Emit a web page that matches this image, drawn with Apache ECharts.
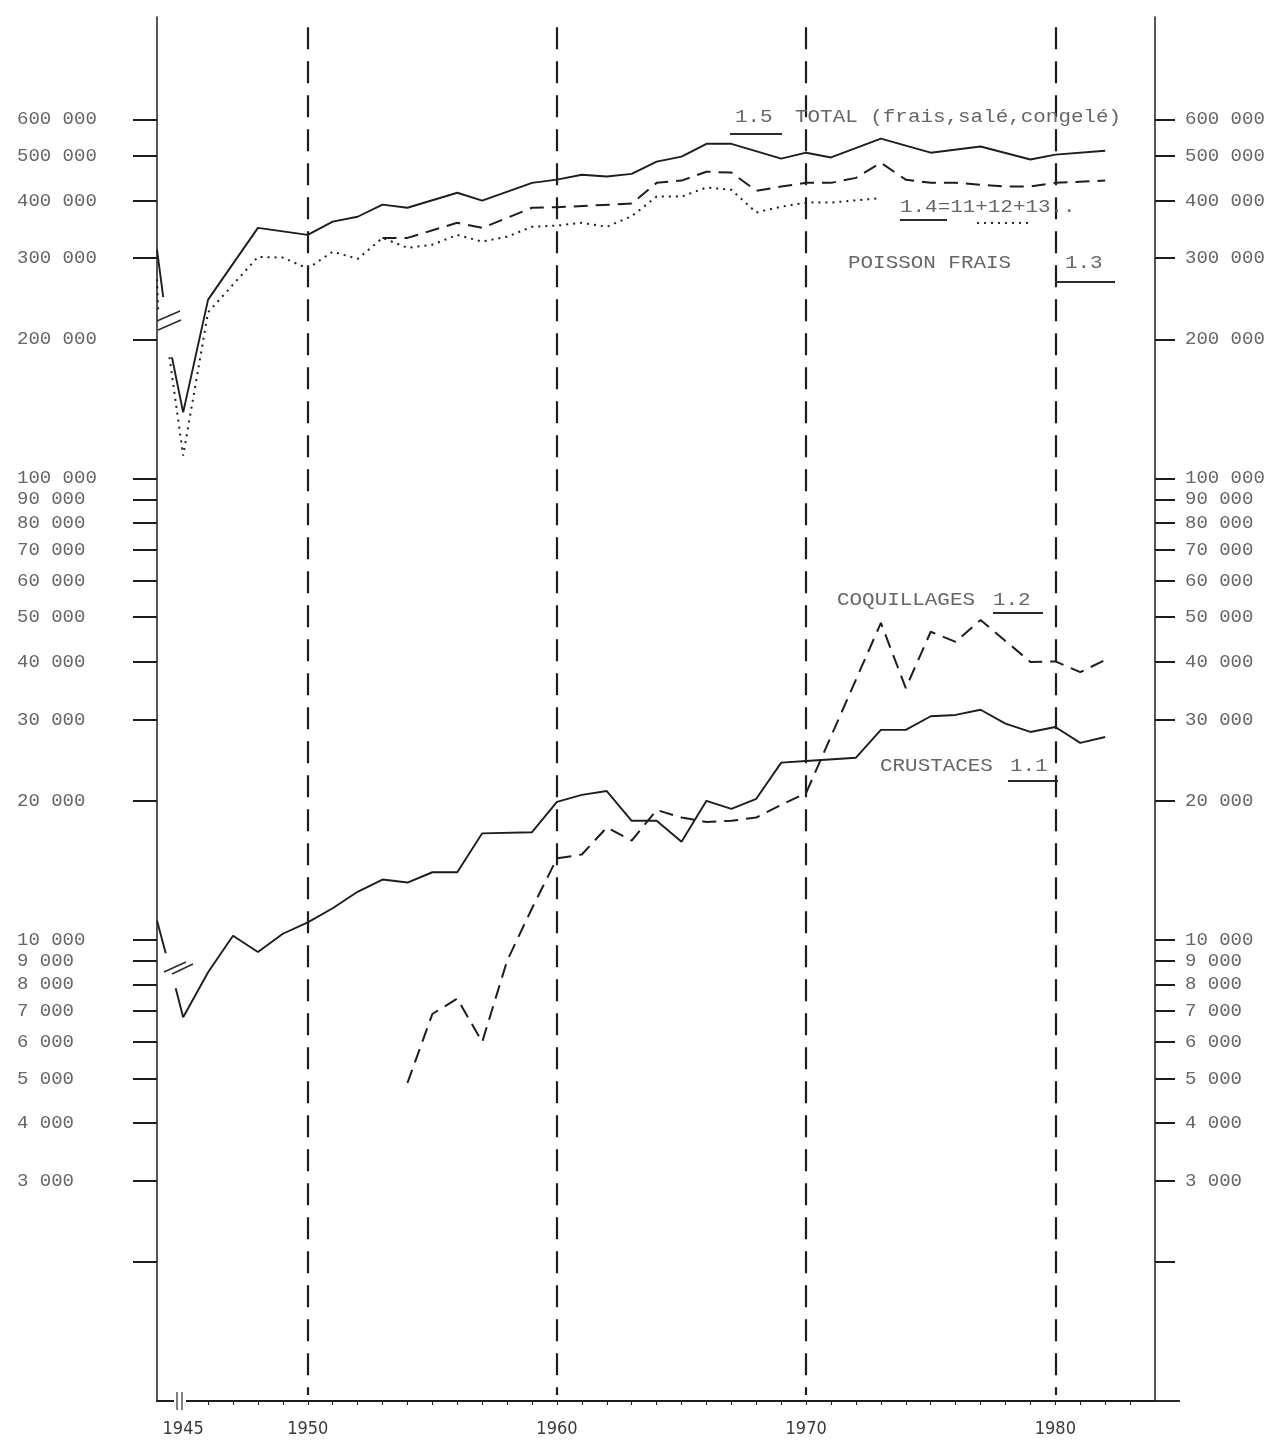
<!DOCTYPE html>
<html>
<head>
<meta charset="utf-8">
<title>Production des pêches 1945-1982</title>
<script src="https://cdn.jsdelivr.net/npm/echarts@6/dist/echarts.min.js"></script>
<style>
  html, body { margin: 0; padding: 0; background: #fff; }
  #chart { width: 1280px; height: 1450px; }
</style>
</head>
<body>
<div id="chart"></div>
<script>
// ---- data (tonnes, log scale) ----
// 1.5 Total (frais, salé, congelé) — pre-war reference drawn at the axis, then the post-war series
const totalPreWarYears = [1943.95, 1944.2];
const totalPreWarValues = [313000, 247000];
const totalYears = [1944.55, 1945, 1946, 1948, 1950, 1951, 1952, 1953, 1954, 1956, 1957, 1959, 1960, 1961, 1962, 1963, 1964, 1965, 1966, 1967, 1969, 1970, 1971, 1973, 1975, 1977, 1979, 1980, 1982];
const totalValues = [183000, 139000, 244000, 349000, 337000, 360000, 369000, 392000, 386000, 416000, 400000, 437000, 444000, 455000, 451000, 457000, 486000, 498000, 531000, 531000, 493000, 508000, 496000, 545000, 508000, 524000, 491000, 503000, 513000];

// 1.4 = 1.1 + 1.2 + 1.3 (dashed)
const freshSumYears = [1953, 1954, 1956, 1957, 1958, 1959, 1960, 1963, 1964, 1965, 1966, 1967, 1968, 1969, 1970, 1971, 1972, 1973, 1974, 1975, 1976, 1978, 1979, 1980, 1982];
const freshSumValues = [332000, 332000, 358000, 349000, 367000, 386000, 387000, 394000, 437000, 442000, 462000, 460000, 420000, 429000, 437000, 437000, 448000, 483000, 444000, 437000, 437000, 429000, 429000, 437000, 442000];

// Poisson frais (dotted)
const fishPreWarYears = [1943.95, 1944.0];
const fishPreWarValues = [270000, 229000];
const fishYears = [1944.45, 1945, 1946, 1948, 1949, 1950, 1951, 1952, 1953, 1954, 1955, 1956, 1957, 1958, 1959, 1960, 1961, 1962, 1963, 1964, 1965, 1966, 1967, 1968, 1969, 1970, 1971, 1973];
const fishValues = [183000, 112000, 229000, 302000, 301000, 285000, 310000, 299000, 332000, 316000, 321000, 337000, 326000, 334000, 351000, 353000, 358000, 351000, 370000, 408000, 408000, 427000, 422000, 377000, 388000, 396000, 396000, 405000];

// 1.1 Crustacés (solid)
const crustPreWarYears = [1943.95, 1944.3];
const crustPreWarValues = [11000, 9350];
const crustYears = [1944.7, 1945, 1946, 1947, 1948, 1949, 1950, 1951, 1952, 1953, 1954, 1955, 1956, 1957, 1959, 1960, 1961, 1962, 1963, 1964, 1965, 1966, 1967, 1968, 1969, 1970, 1972, 1973, 1974, 1975, 1976, 1977, 1978, 1979, 1980, 1981, 1982];
const crustValues = [7850, 6790, 8500, 10200, 9400, 10300, 10900, 11700, 12700, 13500, 13300, 14000, 14000, 17000, 17100, 19900, 20600, 21000, 18100, 18100, 16300, 20000, 19200, 20200, 24200, 24400, 24800, 28500, 28500, 30500, 30700, 31500, 29400, 28200, 28900, 26700, 27500];

// 1.2 Coquillages (dashed)
const shellYears = [1954, 1955, 1956, 1957, 1958, 1959, 1960, 1961, 1962, 1963, 1964, 1965, 1966, 1967, 1968, 1969, 1970, 1973, 1974, 1975, 1976, 1977, 1979, 1980, 1981, 1982];
const shellValues = [4890, 6900, 7450, 6000, 9000, 11700, 15000, 15300, 17500, 16400, 19100, 18400, 18000, 18100, 18400, 19600, 20800, 48600, 35100, 46500, 44200, 49300, 40000, 40100, 38000, 40400];

// axes
const yTickValues = [2000, 3000, 4000, 5000, 6000, 7000, 8000, 9000, 10000, 20000, 30000, 40000, 50000, 60000, 70000, 80000, 90000, 100000, 200000, 300000, 400000, 500000, 600000];
const yLabelValues = [3000, 4000, 5000, 6000, 7000, 8000, 9000, 10000, 20000, 30000, 40000, 50000, 60000, 70000, 80000, 90000, 100000, 200000, 300000, 400000, 500000, 600000];
const xTickYears = [1945, 1946, 1947, 1948, 1949, 1950, 1951, 1952, 1953, 1954, 1955, 1956, 1957, 1958, 1959, 1960, 1961, 1962, 1963, 1964, 1965, 1966, 1967, 1968, 1969, 1970, 1971, 1972, 1973, 1974, 1975, 1976, 1977, 1978, 1979, 1980, 1981, 1982, 1983];
const xLabelYears = [1945, 1950, 1960, 1970, 1980];
const decadeLines = [1950, 1960, 1970, 1980];

// ---- helpers ----
const pairs = (xs, ys) => xs.map((x, i) => [x, ys[i]]);
const fmtThousands = v => String(Math.round(v)).replace(/\B(?=(\d{3})+(?!\d))/g, ' ');

const INK = '#1d1d1d';
const TYPE_FONT = '"Liberation Mono", "DejaVu Sans Mono", monospace';
const TEXT_GREY = '#666666';

const solid = { color: INK, width: 1.9, type: 'solid' };
const dashed = { color: INK, width: 2, type: [14, 8] };
const dotted = { color: INK, width: 2, type: [2, 5] };

function lineSeries(name, data, style, extra) {
  return Object.assign({
    name, type: 'line', data,
    symbol: 'none', smooth: false, connectNulls: false,
    lineStyle: style, silent: true, animation: false, z: 3
  }, extra || {});
}

function yAxisDef(position, margin) {
  return {
    type: 'log', logBase: 10, min: 1000, max: 1000000,
    position,
    axisLine: { show: true, lineStyle: { color: INK, width: 1.5 } },
    axisTick: { show: true, inside: false, length: position === 'left' ? 24 : 20,
                customValues: yTickValues, lineStyle: { color: INK, width: 2 } },
    axisLabel: { show: true, customValues: yLabelValues, formatter: fmtThousands,
                 margin, align: 'left', fontFamily: TYPE_FONT, fontSize: 19, color: TEXT_GREY },
    splitLine: { show: false }, minorTick: { show: false }
  };
}

// annotation text helpers
function typed(text, x, y) {
  return { type: 'text', x, y, scaleX: 1.1, silent: true, z: 10,
           style: { text, font: '19px ' + TYPE_FONT, fill: TEXT_GREY, verticalAlign: 'middle', align: 'left' } };
}
function rule(x1, x2, y, dash) {
  return { type: 'line', silent: true, z: 10,
           shape: { x1, y1: y, x2, y2: y },
           style: { stroke: '#2a2a2a', lineWidth: 2, lineDash: dash || null } };
}
function stroke(x1, y1, x2, y2, w) {
  return { type: 'line', silent: true, z: 11,
           shape: { x1, y1, x2, y2 }, style: { stroke: '#2a2a2a', lineWidth: w || 1.5 } };
}

const chart = echarts.init(document.getElementById('chart'), null, { renderer: 'canvas' });

chart.setOption({
  backgroundColor: '#ffffff',
  animation: false,
  grid: { left: 157, right: 125, top: 17, bottom: 49, containLabel: false },
  xAxis: {
    type: 'value', min: 1943.95, max: 1984,
    axisLine: { show: true, lineStyle: { color: INK, width: 2 } },
    axisTick: { show: true, length: 4, customValues: xTickYears, lineStyle: { color: INK, width: 1 } },
    axisLabel: { show: true, customValues: xLabelYears, formatter: v => String(v), margin: 19,
                 fontFamily: '"DejaVu Sans Condensed", "DejaVu Sans", sans-serif', fontSize: 18, color: '#3a3a3a' },
    splitLine: { show: false }
  },
  yAxis: [yAxisDef('left', 140), yAxisDef('right', 30)],
  series: [
    lineSeries('Total avant-guerre', pairs(totalPreWarYears, totalPreWarValues), solid),
    lineSeries('1.5 Total (frais, salé, congelé)', pairs(totalYears, totalValues), solid, {
      markLine: {
        silent: true, symbol: ['none', 'none'], label: { show: false },
        lineStyle: { color: INK, width: 2.2, type: [22, 12] },
        data: decadeLines.map(y => [{ coord: [y, 950000] }, { coord: [y, 1030] }])
      }
    }),
    lineSeries('1.4 = 1.1 + 1.2 + 1.3', pairs(freshSumYears, freshSumValues), dashed),
    lineSeries('Poisson frais avant-guerre', pairs(fishPreWarYears, fishPreWarValues), dotted),
    lineSeries('Poisson frais', pairs(fishYears, fishValues), dotted),
    lineSeries('Crustacés avant-guerre', pairs(crustPreWarYears, crustPreWarValues), solid),
    lineSeries('1.1 Crustacés', pairs(crustYears, crustValues), solid),
    lineSeries('1.2 Coquillages', pairs(shellYears, shellValues), dashed)
  ],
  graphic: [
    // series captions
    typed('1.5', 735, 117), rule(730, 782, 134),
    typed('TOTAL (frais,salé,congelé)', 795, 117),
    typed('1.4=11+12+13..', 900, 207), rule(900, 947, 220), rule(977, 1033, 223, [2, 5]),
    typed('POISSON FRAIS', 848, 263),
    typed('1.3', 1065, 263), rule(1055, 1115, 282),
    typed('COQUILLAGES', 837, 600),
    typed('1.2', 993, 600), rule(993, 1043, 613),
    typed('CRUSTACES', 880, 766),
    typed('1.1', 1010, 766), rule(1008, 1058, 781),
    // axis break marks
    stroke(157, 321, 180, 311), stroke(158, 330, 181, 320),
    stroke(164, 972, 186, 962), stroke(172, 974, 193, 964),
    { type: 'rect', silent: true, z: 10, shape: { x: 174, y: 1396, width: 12, height: 10 }, style: { fill: '#fff' } },
    stroke(177, 1392, 177, 1410, 1.2), stroke(182, 1392, 182, 1410, 1.2),
    // bottom rule runs a little past the right-hand axis
    stroke(1155, 1401, 1180, 1401, 2)
  ]
});
</script>
</body>
</html>
